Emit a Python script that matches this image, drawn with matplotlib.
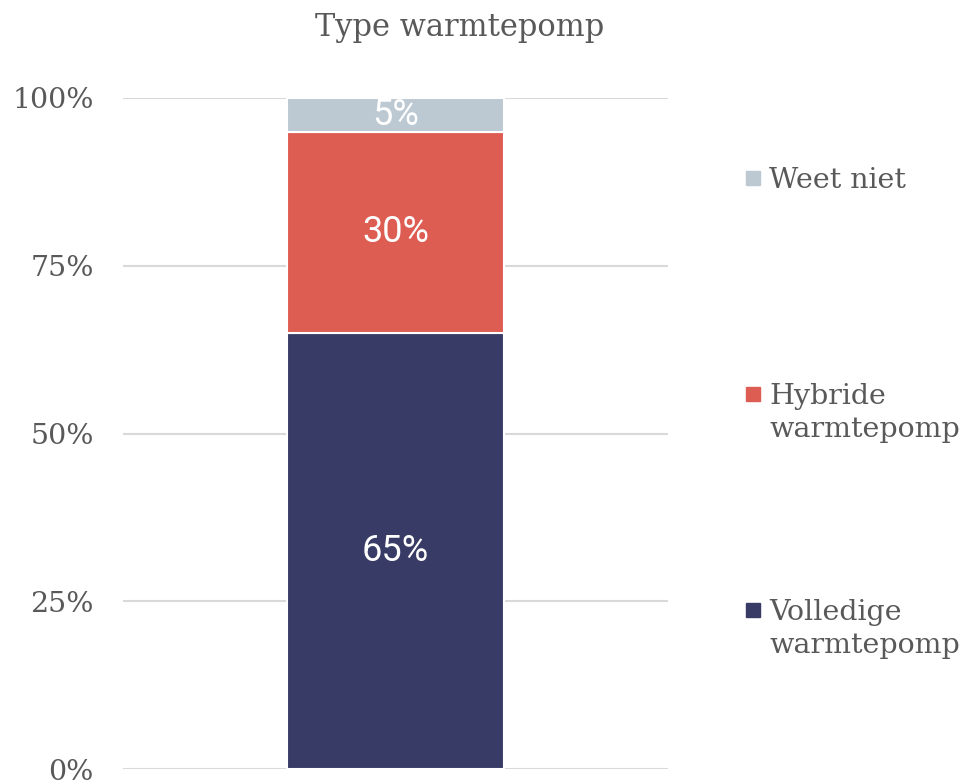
#!/usr/bin/env python3
"""Stacked bar: type warmtepomp."""

import matplotlib
matplotlib.use("Agg")
import matplotlib.pyplot as plt
from matplotlib.patches import Rectangle

# data (bottom to top)
categories = ["Volledige\nwarmtepomp", "Hybride\nwarmtepomp", "Weet niet"]
shares = [65, 30, 5]
colors = ["#383B66", "#DE5D53", "#BCC9D3"]
yticks = [0, 25, 50, 75, 100]
ytick_labels = ["0%", "25%", "50%", "75%", "100%"]
title = "Type warmtepomp"

W, H = 968, 782
text_color = "#595959"
serif = "DejaVu Serif"

fig = plt.figure(figsize=(W / 100, H / 100), dpi=100)
ax = fig.add_axes([123 / W, 1 - 769 / H, (668 - 123) / W, (769 - 98) / H])

bottom = 0
for cat, val, col in zip(categories, shares, colors):
    ax.bar(0, val, width=0.398, bottom=bottom, color=col,
           edgecolor="white", linewidth=1.5, zorder=3)
    ax.text(0, bottom + val / 2, f"{val}%", ha="center", va="center",
            color="white", fontsize=26, family="Roboto", zorder=4)
    bottom += val

ax.set_xlim(-0.5, 0.5)
ax.set_ylim(0, 100)
ax.set_xticks([])
ax.set_yticks(yticks)
ax.set_yticklabels(ytick_labels, family=serif, fontsize=20.5, color=text_color)
ax.tick_params(axis="y", length=0, pad=21)
ax.grid(axis="y", color="#D9D9D9", linewidth=1.5, zorder=0)
for s in ax.spines.values():
    s.set_visible(False)

fig.text(460 / W, 1 - 36 / H, title, ha="center", va="baseline",
         family=serif, fontsize=22, color=text_color)

# legend, top entry first: marker centre and text top in px
legend_marks = [178, 394, 610]
legend_tops = [167, 383, 599]
for cat, col, yc, yt in zip(categories[::-1], colors[::-1],
                            legend_marks, legend_tops):
    fig.patches.append(Rectangle((746 / W, 1 - (yc + 7) / H), 14 / W, 14 / H,
                                 transform=fig.transFigure, color=col,
                                 figure=fig))
    fig.text(769 / W, 1 - yt / H, cat, ha="left", va="top",
             family=serif, fontsize=20.5, color=text_color, linespacing=1.28)

plt.savefig("out.png", dpi=100)
plt.close()
